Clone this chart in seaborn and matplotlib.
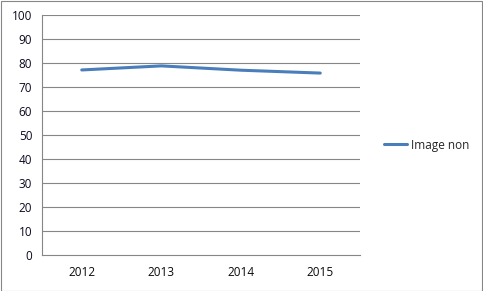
import matplotlib
matplotlib.use("Agg")
import matplotlib.pyplot as plt
import seaborn as sns
import pandas as pd
from matplotlib.patches import Rectangle

years = ["2012", "2013", "2014", "2015"]
values = [77.1, 78.8, 77.0, 75.8]
series_name = "Image non"
y_ticks = [0, 10, 20, 30, 40, 50, 60, 70, 80, 90, 100]

sns.set_theme(style="white")
plt.rcParams["font.family"] = ["Open Sans", "DejaVu Sans"]

df = pd.DataFrame({"pos": range(len(years)), "value": values, "series": series_name})

fig = plt.figure(figsize=(4.83, 2.91), dpi=100)
ax = fig.add_axes([42 / 483, 36 / 291, 318 / 483, 240 / 291])

grid_c = "#868686"
for t in y_ticks[1:]:
    ax.axhline(t, color=grid_c, lw=0.8, zorder=0)

sns.lineplot(data=df, x="pos", y="value", hue="series", palette=["#4A7EBB"],
             linewidth=2.2, ax=ax, legend=True)

ax.set_xlim(-0.5, len(years) - 0.5)
ax.set_ylim(0, 100)
ax.set_yticks(y_ticks)
ax.set_yticklabels([str(t) for t in y_ticks], fontsize=8.5, color="#0a0a20")
ax.set_xticks(range(len(years)))
ax.set_xticklabels(years, fontsize=8.5, color="#0a0a0a")
ax.set_xticks([i - 0.5 for i in range(len(years) + 1)], minor=True)
ax.tick_params(axis="x", which="major", length=0, pad=8)
ax.tick_params(axis="x", which="minor", length=4, color=grid_c, width=0.8, direction="out")
ax.tick_params(axis="y", which="major", length=4, color=grid_c, width=0.8, direction="out", pad=3)
ax.set_xlabel("")
ax.set_ylabel("")
for s in ["top", "right"]:
    ax.spines[s].set_visible(False)
for s in ["left", "bottom"]:
    ax.spines[s].set_color(grid_c)
    ax.spines[s].set_linewidth(0.8)

leg = ax.legend(loc="center left", bbox_to_anchor=(379 / 483, (291 - 145) / 291),
                bbox_transform=fig.transFigure, frameon=False, fontsize=8.5,
                handlelength=2.0, handletextpad=0.3, borderaxespad=0)

fig.patches.append(Rectangle((0.5 / 483, 0.5 / 291), 481.5 / 483, 289.5 / 291,
                             transform=fig.transFigure, fill=False, edgecolor="#868686",
                             lw=0.8))

fig.savefig("out.png", dpi=100, facecolor="white")
